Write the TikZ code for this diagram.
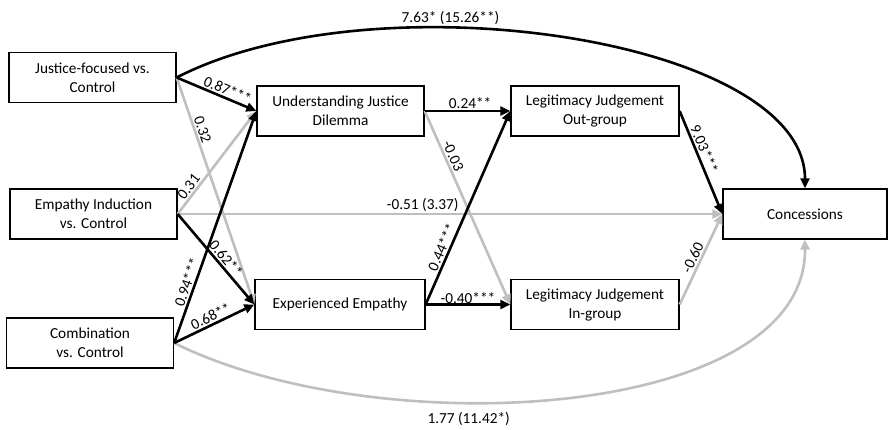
\documentclass[tikz,border=0pt]{standalone}
\usepackage{fontspec}
\setmainfont{Carlito}
\usetikzlibrary{arrows.meta}
\definecolor{lgray}{RGB}{191,191,191}
\begin{document}
\begin{tikzpicture}[x=1pt,y=-1pt,
  box/.style={draw,line width=1.3pt,minimum width=167pt,minimum height=50pt,align=center,font=\fontsize{15.3}{19}\selectfont,inner sep=2pt},
  blk/.style={line width=2.6pt,black,-{Triangle[length=10pt,width=9pt]}},
  gry/.style={line width=2.6pt,lgray,-{Triangle[length=10pt,width=9pt]}},
  lab/.style={font=\fontsize{15.3}{17}\selectfont,inner sep=1.5pt,text=black}
]
\useasboundingbox (0,0) rectangle (889,429);
\node[box] (J) at (92.5,77.5) {Justice-focused vs.\\Control};
\node[box] (E) at (93.5,214) {Empathy Induction\\vs. Control};
\node[box] (C) at (90,343) {Combination\\vs. Control};
\node[box] (U) at (340.5,111) {Understanding Justice\\Dilemma};
\node[box,minimum width=170pt] (X) at (340,304.5) {Experienced Empathy};
\node[box,minimum width=168pt] (O) at (595,111) {Legitimacy Judgement\\Out-group};
\node[box,minimum width=168pt] (I) at (595,304.5) {Legitimacy Judgement\\In-group};
\node[box,minimum width=164pt] (K) at (805,214) {Concessions};

% gray connectors
\draw[gry] (J.east) -- node[lab,pos=0.24,sloped,above] {0.32} (X.west);
\draw[gry] (E.east) -- node[lab,pos=0.22,sloped,above] {0.31} (U.west);
\draw[gry] (E.east) -- node[lab,pos=0.45,above] {-0.51 (3.37)} (K.west);
\draw[gry] (U.east) -- node[lab,pos=0.25,sloped,above] {-0.03} (I.west);
\draw[gry] (I.east) -- node[lab,pos=0.48,sloped,above] {-0.60} (K.west);
\draw[gry] (C.east) .. controls (380,445) and (806,420) .. node[lab,pos=0.38,below=7pt] {1.77 (11.42*)} (K.south);

% black connectors
\draw[blk] (J.east) -- node[lab,pos=0.6,sloped,above] {0.87***} (U.west);
\draw[blk] (E.east) -- node[lab,pos=0.55,sloped,above] {0.62**} (X.west);
\draw[blk] (C.east) -- node[lab,pos=0.25,sloped,above] {0.94***} (U.west);
\draw[blk] (C.east) -- node[lab,pos=0.5,sloped,above] {0.68**} (X.west);
\draw[blk] (U.east) -- node[lab,pos=0.53,above] {0.24**} (O.west);
\draw[blk] (X.east) -- node[lab,pos=0.28,sloped,above] {0.44***} (O.west);
\draw[blk] (X.east) -- node[lab,pos=0.5,above=-2pt] {-0.40***} (I.west);
\draw[blk] (O.east) -- node[lab,pos=0.4,sloped,above] {9.03***} (K.west);
\draw[blk] (J.east) .. controls (376,-25) and (805,39) .. node[lab,pos=0.36,above] {7.63* (15.26**)} (K.north);
\end{tikzpicture}
\end{document}
